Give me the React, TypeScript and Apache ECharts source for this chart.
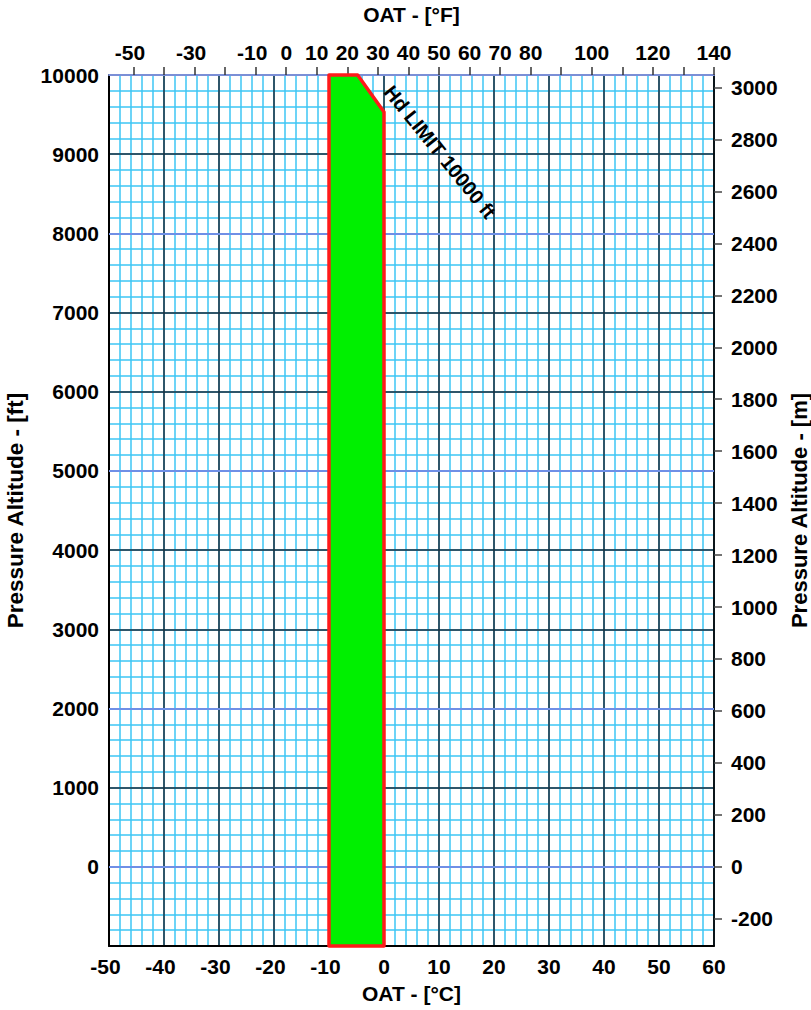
import { useEffect, useRef } from "react";
import * as echarts from "echarts";

// Axis ranges
const celsiusRange = [-50, 60];
const fahrenheitRange = [-58, 140];
const altitudeFtRange = [-1000, 10000];
const altitudeMRange = [-304.8, 3048];

// Tick / label values
const fahrenheitTicks = [-50, -40, -30, -20, -10, 0, 10, 20, 30, 40, 50, 60, 70, 80, 90, 100, 110, 120, 130, 140];
const fahrenheitLabels = [-50, -30, -10, 0, 10, 20, 30, 40, 50, 60, 70, 80, 100, 120, 140];
const meterTicks = [-200, 0, 200, 400, 600, 800, 1000, 1200, 1400, 1600, 1800, 2000, 2200, 2400, 2600, 2800, 3000];
const ftLabels = [0, 1000, 2000, 3000, 4000, 5000, 6000, 7000, 8000, 9000, 10000];
const blueMajorFt = [0, 2000, 5000, 8000];

// Operating envelope (OAT °C, pressure altitude ft)
const envelopeOAT = [-10, -10, -4.8, 0, 0];
const envelopePA = [-1000, 10000, 10000, 9534, -1000];

const FONT = "'Liberation Sans', Arial, Helvetica, sans-serif";
const MINOR = "#3cc6f4";
const MAJOR = "#1b2c3b";
const LABEL_SIZE = 21;

const labelFmt = (v: number) => (v < 0 ? `{a|${v}}{p| }` : `{a|${v}}`);
const plainFmt = (v: number) => String(v);
const richLabel = {
  a: { fontSize: LABEL_SIZE, fontWeight: "bold", fontFamily: FONT, color: "#000" },
  p: { fontSize: LABEL_SIZE, width: 7, fontFamily: FONT },
};

export default function App() {
  const ref = useRef<HTMLDivElement>(null);
  useEffect(() => {
    if (!ref.current) return;
    const chart = echarts.init(ref.current, null, { renderer: "svg" });
    const nameStyle = { fontSize: 21, fontWeight: "bold", fontFamily: FONT, color: "#000" };
    const vNameStyle = { fontSize: 22.5, fontWeight: "bold", fontFamily: FONT, color: "#000" };
    const rNameStyle = { fontSize: 22, fontWeight: "bold", fontFamily: FONT, color: "#000" };
    const yLabel = { fontSize: LABEL_SIZE, fontWeight: "bold", fontFamily: FONT, color: "#000", formatter: plainFmt };
    const option: any = {
      animation: false,
      backgroundColor: "#fff",
      grid: { left: 109, right: 97, top: 75, bottom: 64, containLabel: false, outerBoundsMode: "none" },
      xAxis: [
        {
          type: "value",
          position: "bottom",
          min: celsiusRange[0],
          max: celsiusRange[1],
          interval: 10,
          z: 1,
          axisLine: { show: true, onZero: false, lineStyle: { color: "#000", width: 2 } },
          axisTick: { show: false },
          axisLabel: { margin: 10, formatter: labelFmt, rich: richLabel },
          splitLine: { show: true, lineStyle: { color: MAJOR, width: 1.5 } },
          name: "OAT - [°C]",
          nameLocation: "middle",
          nameGap: 37,
          nameTextStyle: nameStyle,
        },
        {
          type: "value",
          position: "top",
          min: fahrenheitRange[0],
          max: fahrenheitRange[1],
          z: 1,
          axisLine: { show: true, onZero: false, lineStyle: { color: "#7b8fd6", width: 2 } },
          axisTick: { show: true, customValues: fahrenheitTicks, length: 8, lineStyle: { color: "#333", width: 1.5 } },
          axisLabel: { customValues: fahrenheitLabels, margin: 12, formatter: labelFmt, rich: richLabel },
          splitLine: { show: false },
          name: "OAT - [°F]",
          nameLocation: "middle",
          nameGap: 50,
          nameTextStyle: nameStyle,
        },
        {
          type: "value",
          position: "bottom",
          min: celsiusRange[0],
          max: celsiusRange[1],
          interval: 2,
          z: 0,
          axisLine: { show: false, onZero: false },
          axisTick: { show: false },
          axisLabel: { show: false },
          splitLine: { show: true, lineStyle: { color: MINOR, width: 1.5 } },
        },
      ],
      yAxis: [
        {
          type: "value",
          position: "left",
          min: altitudeFtRange[0],
          max: altitudeFtRange[1],
          interval: 1000,
          z: 1,
          axisLine: { show: true, onZero: false, lineStyle: { color: "#000", width: 2 } },
          axisTick: { show: false },
          axisLabel: { ...yLabel, customValues: ftLabels, margin: 10 },
          splitLine: { show: true, lineStyle: { color: MAJOR, width: 1.5 } },
          name: "Pressure Altitude - [ft]",
          nameLocation: "middle",
          nameGap: 82,
          nameRotate: 90,
          nameTextStyle: vNameStyle,
        },
        {
          type: "value",
          position: "right",
          min: altitudeMRange[0],
          max: altitudeMRange[1],
          z: 1,
          axisLine: { show: true, onZero: false, lineStyle: { color: "#000", width: 1.5 } },
          axisTick: { show: true, customValues: meterTicks, length: 8, lineStyle: { color: "#444", width: 1.5 } },
          axisLabel: { ...yLabel, customValues: meterTicks, margin: 17 },
          splitLine: { show: false },
          name: "Pressure Altitude - [m]",
          nameLocation: "middle",
          nameGap: 70,
          nameRotate: 90,
          nameTextStyle: rNameStyle,
        },
        {
          type: "value",
          position: "left",
          min: altitudeFtRange[0],
          max: altitudeFtRange[1],
          interval: 200,
          z: 0,
          axisLine: { show: false, onZero: false },
          axisTick: { show: false },
          axisLabel: { show: false },
          splitLine: { show: true, lineStyle: { color: MINOR, width: 1.5 } },
        },
      ],
      series: [
        {
          type: "line",
          xAxisIndex: 0,
          yAxisIndex: 0,
          data: [],
          z: 1,
          silent: true,
          markLine: {
            silent: true,
            z: 2,
            symbol: "none",
            label: { show: false },
            lineStyle: { color: "#6f8fe6", width: 2, type: "solid" },
            data: blueMajorFt.map((v) => ({ yAxis: v })),
          },
        },
        {
          type: "custom",
          xAxisIndex: 0,
          yAxisIndex: 0,
          z: 6,
          data: [0],
          renderItem: (_params: any, api: any) => {
            const pts = envelopeOAT.map((t, i) => api.coord([t, envelopePA[i]]));
            return {
              type: "polygon",
              shape: { points: pts },
              style: { fill: "#00f000", stroke: "#ff1a1a", lineWidth: 3.5, lineJoin: "round" },
            };
          },
        },
      ],
      graphic: [
        {
          type: "text",
          x: 440,
          y: 152,
          rotation: -0.89,
          z: 10,
          style: {
            text: "Hd LIMIT 10000 ft",
            fontSize: 20,
            fontWeight: "bold",
            fontFamily: FONT,
            fill: "#000",
            align: "center",
            verticalAlign: "middle",
          },
        },
      ],
    };
    chart.setOption(option);
    return () => chart.dispose();
  }, []);
  return (
    <div
      ref={ref}
      style={{ position: "absolute", left: 0, top: 0, width: 811, height: 1010 }}
    />
  );
}
